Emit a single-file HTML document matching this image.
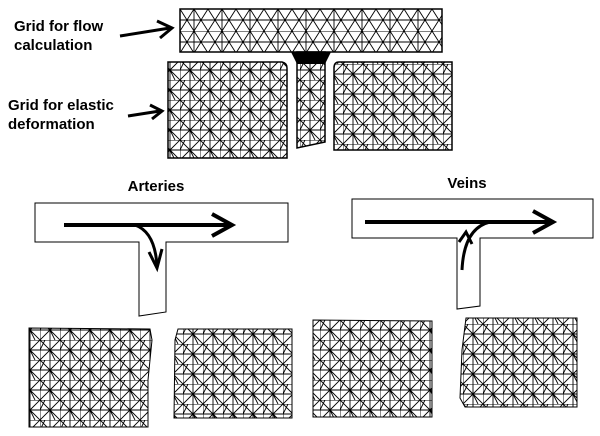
<!DOCTYPE html>
<html><head><meta charset="utf-8"><style>
html,body{margin:0;padding:0;background:#fff;}
svg{display:block}
text{font-family:"Liberation Sans",Arial,sans-serif;fill:#000;font-weight:bold}
</style></head><body>
<svg width="600" height="436" viewBox="0 0 600 436" xmlns="http://www.w3.org/2000/svg">
<defs>
<pattern id="m" width="20" height="20" patternUnits="userSpaceOnUse">
<path d="M0 0H20M0 10H20M0 0V20M10 0V20M0 0L10 10M20 0L10 10M0 20L10 10M20 20L10 10M0 10L5 0M10 10L15 20" stroke="#000" stroke-width="0.9" fill="none"/>
</pattern>
<pattern id="m2" width="20" height="20" patternUnits="userSpaceOnUse" patternTransform="translate(3 4)">
<path d="M0 0H20M0 10H20M0 0V20M10 0V20M0 0L10 10M20 0L10 10M0 20L10 10M20 20L10 10M0 10L5 0M10 10L15 20" stroke="#000" stroke-width="0.9" fill="none"/>
</pattern>
<pattern id="mf" width="28" height="22" patternUnits="userSpaceOnUse" patternTransform="translate(180 9)">
<path d="M0 0H28M0 11H28M0 0L14 22M28 0L14 22M0 22L14 0M28 22L14 0M14 0V22" stroke="#000" stroke-width="0.9" fill="none"/>
</pattern>
</defs>

<text x="14" y="31" font-size="15">Grid for flow</text>
<text x="14" y="50" font-size="15">calculation</text>
<text x="8" y="110" font-size="15">Grid for elastic</text>
<text x="8" y="129" font-size="15">deformation</text>
<path d="M120 36L170 28" stroke="#000" stroke-width="3"/>
<path d="M157 21L172 28L160 38" stroke="#000" stroke-width="3" fill="none"/>
<path d="M128 116L160 111" stroke="#000" stroke-width="3"/>
<path d="M150 105L162 111L152 119" stroke="#000" stroke-width="3" fill="none"/>

<rect x="180" y="9" width="262" height="43" fill="url(#mf)" stroke="#000" stroke-width="1.5"/>
<path d="M291 52L331 52L325 64L297 64Z" fill="#000"/>
<path d="M297 52L325 52L325 142L297 148Z" fill="url(#m)" stroke="#000" stroke-width="1.5"/>
<path d="M168 62L282 62Q287 63 287 68L287 158L168 158Z" fill="url(#m)" stroke="#000" stroke-width="1.5"/>
<path d="M339 62L452 62L452 150L334 150L334 68Q334 62 339 62Z" fill="url(#m2)" stroke="#000" stroke-width="1.5"/>

<text x="156" y="191" font-size="15" text-anchor="middle">Arteries</text>
<path d="M35 203H288V242H166V312L139 316V242H35Z" fill="#fff" stroke="#000" stroke-width="1"/>
<path d="M64 225H228" stroke="#000" stroke-width="4"/>
<path d="M212 214L232 225L212 236" stroke="#000" stroke-width="4" fill="none"/>
<path d="M135 225Q155 232 157 266" stroke="#000" stroke-width="3" fill="none"/>
<path d="M149 252L157 268L162 249" stroke="#000" stroke-width="3" fill="none"/>

<text x="467" y="188" font-size="15" text-anchor="middle">Veins</text>
<path d="M352 199H593V238H480V306L457 309V238H352Z" fill="#fff" stroke="#000" stroke-width="1"/>
<path d="M365 222H549" stroke="#000" stroke-width="4"/>
<path d="M533 211L553 222L533 233" stroke="#000" stroke-width="4" fill="none"/>
<path d="M462 270Q464 228 490 222" stroke="#000" stroke-width="3" fill="none"/>
<path d="M459 242L466 232L472 244" stroke="#000" stroke-width="3" fill="none"/>

<path d="M29 328L150 329L152 340L148 380L148 427L29 427Z" fill="url(#m)" stroke="#000" stroke-width="1"/>
<path d="M178 329L292 329L292 418L174 418L175 340Z" fill="url(#m2)" stroke="#000" stroke-width="1"/>
<path d="M313 320L432 321L432 417L313 417Z" fill="url(#m)" stroke="#000" stroke-width="1"/>
<path d="M466 318L577 318L577 407L465 407L460 398L462 350Z" fill="url(#m2)" stroke="#000" stroke-width="1"/>
</svg>
</body></html>
